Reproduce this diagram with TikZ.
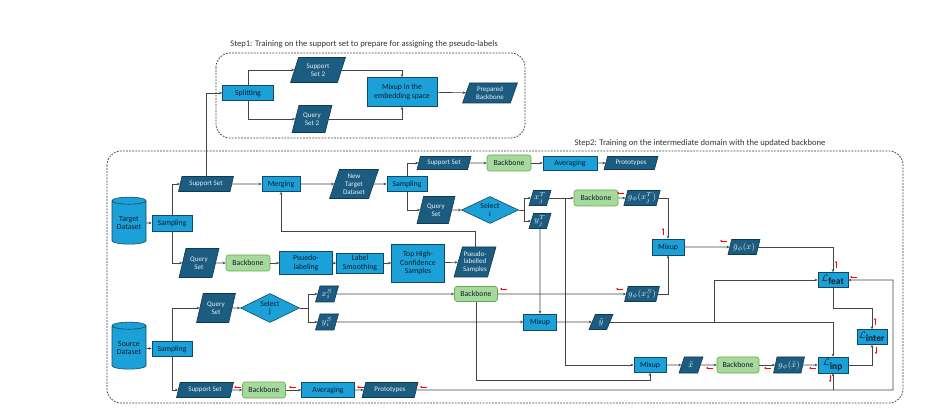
\documentclass[tikz,border=0pt]{standalone}
\usepackage{fix-cm}
\usepackage{fontspec}
\setmainfont{Carlito}
\usetikzlibrary{shapes.geometric,arrows.meta,calc}
\definecolor{pfill}{HTML}{1B5C80}
\definecolor{pborder}{HTML}{0D3B52}
\definecolor{ptext}{HTML}{E8F0F5}
\definecolor{bfill}{HTML}{1CA0D8}
\definecolor{bborder}{HTML}{0F4A68}
\definecolor{btext}{HTML}{0B1F2C}
\definecolor{gfill}{HTML}{A8D99C}
\definecolor{gborder}{HTML}{62AE4E}
\definecolor{lcol}{HTML}{454545}
\definecolor{dcol}{HTML}{3A3A3A}
\definecolor{tcol}{HTML}{333333}
\begin{document}
\begin{tikzpicture}[x=1pt,y=-1pt]
\tikzset{
 base/.style={align=center, inner sep=0.5pt, line width=0.6pt},
 para/.style={base, trapezium, trapezium left angle=70, trapezium right angle=110, trapezium stretches=true, draw=pborder, fill=pfill, text=ptext, font=\fontsize{7}{7.8}\selectfont},
 mpara/.style={para, inner sep=0pt, font=\fontsize{8.5}{9}\selectfont},
 proc/.style={base, rectangle, draw=bborder, fill=bfill, text=btext, font=\fontsize{7.8}{8.6}\selectfont},
 lossbox/.style={proc, inner sep=0pt, font=\fontsize{9.5}{10}\selectfont},
 bbone/.style={base, rectangle, rounded corners=2.5pt, draw=gborder, fill=gfill, text=btext, font=\fontsize{7.8}{8.6}\selectfont},
 dia/.style={base, diamond, aspect=2, inner sep=0pt, draw=bborder, fill=bfill, text=btext, font=\fontsize{7.8}{8.6}\selectfont},
 db/.style={base, cylinder, shape border rotate=90, aspect=0.28, draw=bborder, fill=bfill, text=btext, font=\fontsize{7.8}{8.6}\selectfont},
 sz/.style 2 args={minimum width=#1pt, minimum height=#2pt},
 conn/.style={draw=lcol, line width=0.65pt, -{Stealth[length=3pt,width=2.6pt]}},
 redarr/.style={draw=red, line width=0.55pt, -{Stealth[length=2.2pt,width=2.2pt]}},
 dashbox/.style={draw=dcol, dash pattern=on 1.8pt off 1.3pt, line width=0.7pt, rounded corners=14pt},
 ttl/.style={font=\fontsize{8.6}{9.5}\selectfont, text=tcol, inner sep=0pt},
}
\useasboundingbox[fill=white] (0,0) rectangle (950,411);

% frames
\draw[dashbox] (216,53) rectangle (525,138);
\draw[dashbox] (107,151) rectangle (903,403);
\node[ttl] (t1) at (364,44) {Step1: Training on the support set to prepare for assigning the pseudo-labels};
\node[ttl] (t2) at (700,143) {Step2: Training on the intermediate domain with the updated backbone};

% step 1 nodes
\node[proc, sz={51}{15}] (split) at (248,93) {Splitting};
\node[para, sz={55}{25}] (ss2) at (318,70) {Support\\Set 2};
\node[para, sz={40}{27}] (qs2) at (312,119) {Query\\Set 2};
\node[proc, sz={70}{29}] (mix1) at (402,92) {Mixup in the\\embedding space};
\node[para, sz={55}{20}] (prep) at (490,93) {Prepared\\Backbone};

% step 2 nodes
\node[db, sz={34}{47}] (tdb) at (129,223) {Target\\Dataset};
\node[proc, sz={40}{16}] (samp1) at (172,223) {Sampling};
\node[para, sz={55}{15}] (ssT) at (206,184) {Support Set};
\node[proc, sz={38}{15}] (merge) at (281,184) {Merging};
\node[para, sz={49}{29}] (ntd) at (354,184) {New\\Target\\Dataset};
\node[proc, sz={40}{15}] (samp2) at (407,184) {Sampling};
\node[para, sz={54}{13}] (ss3) at (444,163) {Support Set};
\node[bbone, sz={44}{16}] (bb1) at (509,163) {Backbone};
\node[proc, sz={54}{14}] (avg1) at (570,163) {Averaging};
\node[para, sz={54}{13}] (proto1) at (631,163) {Prototypes};
\node[para, sz={38}{27}] (qs3) at (436,210) {Query\\Set};
\node[dia, sz={57}{27}] (seli) at (490,210) {Select\\[-1pt]$i$};
\node[mpara, sz={22}{15}] (xjT) at (540,198) {$x_j^T$};
\node[mpara, sz={22}{15}] (yjT) at (540,221) {$y_j^T$};
\node[bbone, sz={44}{16}] (bb2) at (596,198) {Backbone};
\node[mpara, sz={32}{15}] (gT) at (642,198) {$g_\phi(x_j^T)$};
\node[proc, sz={32}{16}] (mixR) at (668,247) {Mixup};
\node[mpara, sz={32}{15}] (gbar) at (744,247) {$\bar{g}_\phi(x)$};
\node[lossbox, sz={30}{15}] (Lfeat) at (833,280) {$\mathcal{L}_{\textbf{feat}}$};
\node[lossbox, sz={30}{15}] (Linter) at (872,337) {$\mathcal{L}_{\textbf{inter}}$};
\node[lossbox, sz={30}{16}] (Linp) at (833,365) {$\mathcal{L}_{\textbf{inp}}$};

\node[para, sz={40}{29}] (qsT) at (199,263) {Query\\Set};
\node[bbone, sz={44}{16}] (bb3) at (248,263) {Backbone};
\node[proc, sz={53}{23}] (pseudo) at (306,263) {Psuedo-\\labeling};
\node[proc, sz={47}{20}] (lsmooth) at (360,263) {Label\\Smoothing};
\node[proc, sz={53}{38}] (top) at (418,263) {Top High-\\Confidence\\Samples};
\node[para, sz={42}{30}] (plab) at (475,262) {Pseudo-\\labelled\\Samples};

\node[db, sz={34}{47}] (sdb) at (129,348) {Source\\Dataset};
\node[proc, sz={40}{15}] (samp3) at (172,349) {Sampling};
\node[para, sz={39}{29}] (qsS) at (216,308) {Query\\Set};
\node[dia, sz={59}{29}] (selj) at (270,308) {Select\\[-1pt]j};
\node[mpara, sz={23}{16}] (xiS) at (327,294) {$x_i^S$};
\node[mpara, sz={23}{16}] (yiS) at (327,322) {$y_i^S$};
\node[bbone, sz={43}{15}] (bb4) at (476,294) {Backbone};
\node[mpara, sz={32}{15}] (gS) at (642,294) {$g_\phi(x_i^S)$};
\node[proc, sz={33}{16}] (mixM) at (540,322) {Mixup};
\node[mpara, sz={24}{15}] (ytil) at (601,322) {$\tilde{y}$};
\node[proc, sz={32}{15}] (mixL) at (650,365) {Mixup};
\node[mpara, sz={24}{16}] (ztil) at (691,365) {$\tilde{x}$};
\node[bbone, sz={42}{16}] (bb5) at (738,365) {Backbone};
\node[mpara, sz={31}{16}] (gx) at (789,365) {$g_\phi(\tilde{x})$};
\node[para, sz={57}{15}] (ssS) at (205,390) {Support Set};
\node[bbone, sz={43}{16}] (bb6) at (264,390) {Backbone};
\node[proc, sz={53}{15}] (avg2) at (328,390) {Averaging};
\node[para, sz={56}{15}] (proto2) at (390,390) {Prototypes};

% helper coordinates
\coordinate (jx) at (565,198);
\coordinate (yb) at (714,322);
\coordinate (rc) at (893,390);

% step 1 connectors
\draw[conn] (ssT.north) |- (split.west);
\draw[conn] (split.north) |- (ss2.west);
\draw[conn] (split.south) |- (qs2.west);
\draw[conn] (ss2.east) -| (mix1.north);
\draw[conn] (qs2.east) -| (mix1.south);
\draw[conn] (mix1) -- (prep);

% step 2 connectors: target
\draw[conn] (tdb) -- (samp1);
\draw[conn] (samp1.north) |- (ssT.west);
\draw[conn] (samp1.south) |- (qsT.west);
\draw[conn] (ssT) -- (merge);
\draw[conn] (merge) -- (ntd);
\draw[conn] (ntd) -- (samp2);
\draw[conn] (samp2.north) |- (ss3.west);
\draw[conn] (samp2.south) |- (qs3.west);
\draw[conn] (ss3) -- (bb1);
\draw[conn] (bb1) -- (avg1);
\draw[conn] (avg1) -- (proto1);
\draw[conn] (qs3) -- (seli);
\draw[conn] (seli.east) -- ++(6,0) |- (xjT.west);
\draw[conn] (seli.east) -- ++(6,0) |- (yjT.west);
\draw[conn] (xjT) -- (bb2);
\draw[conn] (bb2) -- (gT);
\draw[conn] (gT.east) -| (mixR.north);
\draw[conn] (gS.east) -| (mixR.south);
\draw[conn] (mixR) -- (gbar);
\draw[conn] (gbar.east) -| (Lfeat.north);
\draw[conn] (Lfeat.south) -- ++(0,21) -| (Linter.north);
\draw[conn] (Linp.east) -| (Linter.south);
\draw[conn] (qsT) -- (bb3);
\draw[conn] (bb3) -- (pseudo);
\draw[conn] (pseudo) -- (lsmooth);
\draw[conn] (lsmooth) -- (top);
\draw[conn] (top) -- (plab);
\draw[conn] (plab.north) -- ++(0,-15) -| (merge.south);
\draw[conn] (yjT.south) -- (mixM.north);
\draw[conn] (jx) |- (mixL.west);

% step 2 connectors: source
\draw[conn] (sdb) -- (samp3);
\draw[conn] (samp3.north) |- (qsS.west);
\draw[conn] (samp3.south) |- (ssS.west);
\draw[conn] (qsS) -- (selj);
\draw[conn] (selj.east) -- ++(9,0) |- (xiS.west);
\draw[conn] (selj.east) -- ++(9,0) |- (yiS.west);
\draw[conn] (xiS) -- (bb4);
\draw[conn] (bb4) -- (gS);
\draw[conn] (bb4.south) -- ++(0,78.5) -| (mixL.south);
\draw[conn] (yiS) -- (mixM);
\draw[conn] (mixM) -- (ytil);
\draw[conn] (ytil.east) -| (Linp.north);
\draw[conn] (yb) |- (Lfeat.west);
\draw[conn] (mixL) -- (ztil);
\draw[conn] (ztil) -- (bb5);
\draw[conn] (bb5) -- (gx);
\draw[conn] (gx) -- (Linp);
\draw[conn] (ssS) -- (bb6);
\draw[conn] (bb6) -- (avg2);
\draw[conn] (avg2) -- (proto2);
\draw[conn] (proto2.east) -- (rc) |- (Lfeat.east);
\draw[conn] (Linp.south |- rc) -- (Linp.south);

% red back-propagation marks
\draw[redarr] (624,193) -- (617,193);
\draw[redarr] (663,235) -- (663,228);
\draw[redarr] (727,241) -- (720,241);
\draw[redarr] (836,268) -- (836,261);
\draw[redarr] (857,277) -- (850,277);
\draw[redarr] (875,325) -- (875,318);
\draw[redarr] (876,347) -- (876,354);
\draw[redarr] (830,375) -- (830,382);
\draw[redarr] (816,368) -- (809,368);
\draw[redarr] (771,368) -- (764,368);
\draw[redarr] (713,368) -- (706,368);
\draw[redarr] (623,289) -- (616,289);
\draw[redarr] (507,289) -- (500,289);
\draw[redarr] (241,387) -- (234,387);
\draw[redarr] (296,387) -- (289,387);
\draw[redarr] (364,387) -- (357,387);
\draw[redarr] (427,387) -- (420,387);
\end{tikzpicture}
\end{document}
